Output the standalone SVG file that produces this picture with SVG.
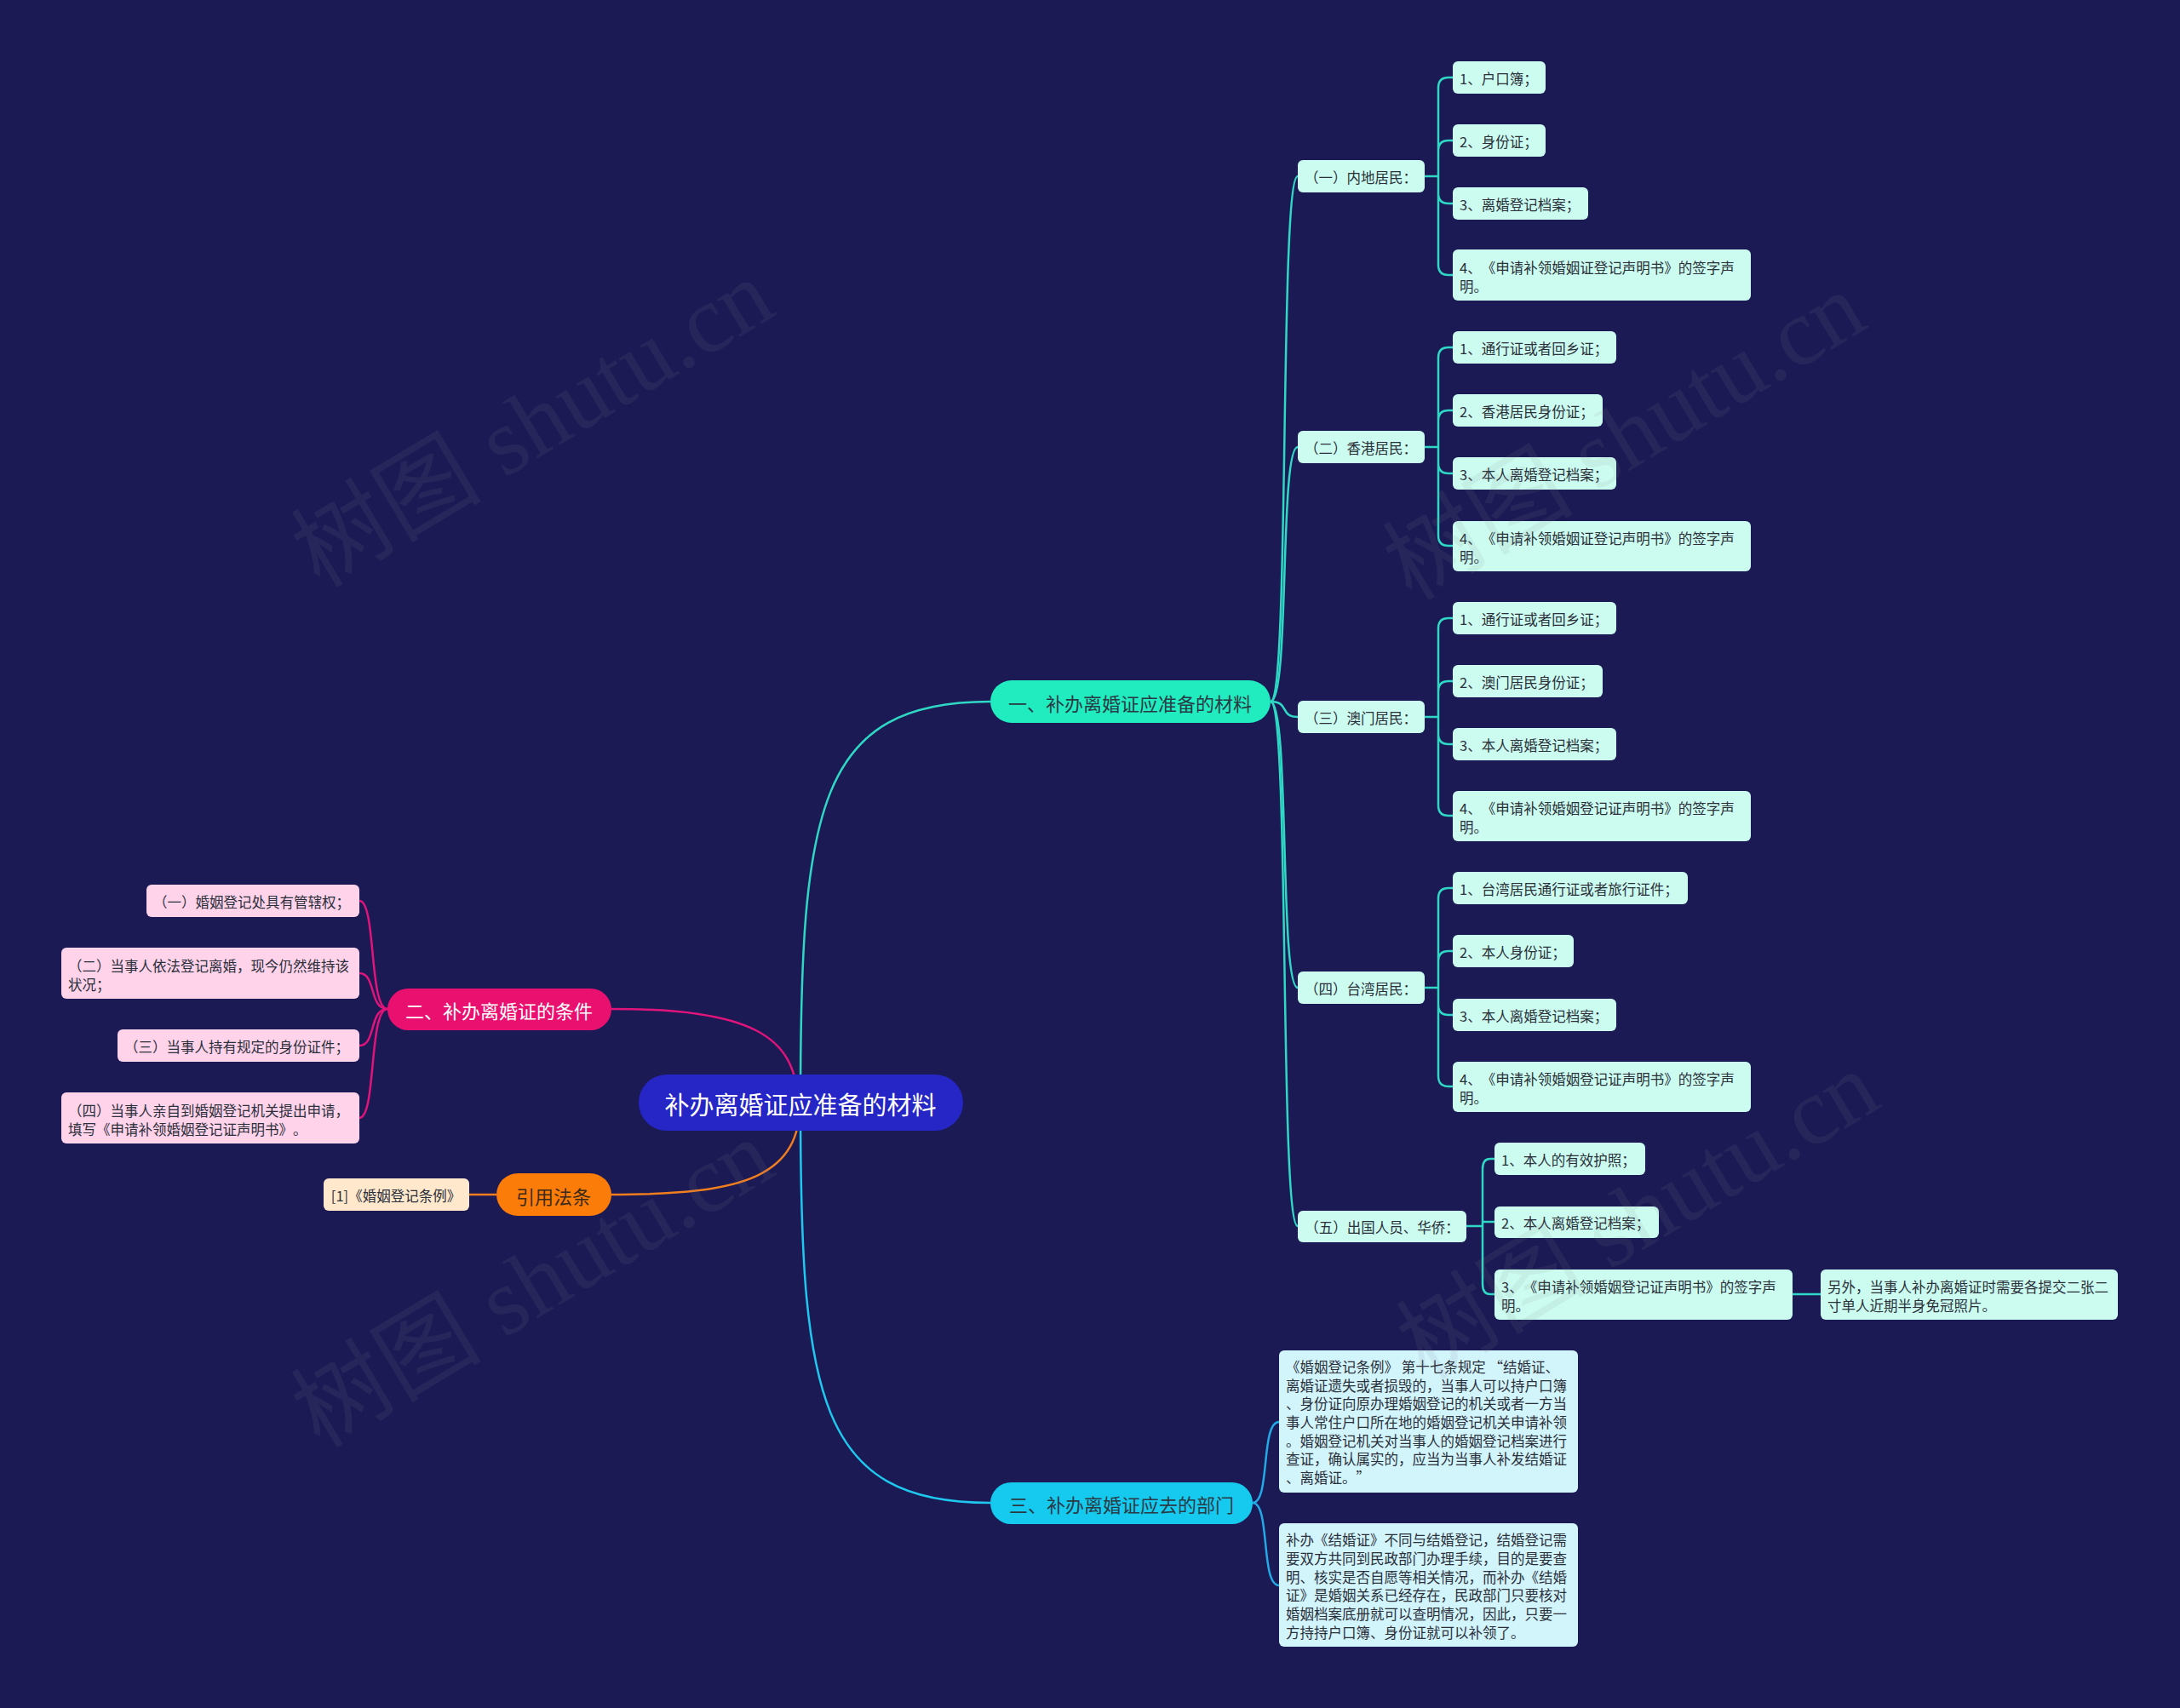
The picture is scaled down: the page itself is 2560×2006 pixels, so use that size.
<svg xmlns="http://www.w3.org/2000/svg" width="2560" height="2006" viewBox="0 0 2560 2006">
<style>
text{font-family:"Noto Sans CJK SC","Noto Sans",sans-serif;text-spacing-trim:space-all;}
.leaf{fill:#cbfcef;}
.sub{fill:#cbfcef;}
.pk{fill:#ffd3ea;}
.bx{fill:#d2f4fb;}
.t{font-size:16.5px;fill:#2a2f3a;}
.tc{font-size:16.5px;fill:#2a2f3a;text-anchor:middle;}
.c1{fill:none;stroke:#2fd8c4;stroke-width:2.5;}
.c3{fill:none;stroke:#23a9e6;stroke-width:2.5;}
.cp{fill:none;stroke:#e0147a;stroke-width:2.5;}
.co{fill:none;stroke:#f07d1e;stroke-width:2.5;}
.wm{font-family:"Liberation Serif","Noto Sans CJK SC",serif;font-size:112px;fill:#8a8a9a;opacity:0.11;}
</style>
<rect width="2560" height="2006" fill="#1b1a54"/>

<g id="connectors">
<path class="c1" d="M940 1295 C940 950 960 824 1163 824"/>
<path class="c3" d="M940 1295 C940 1640 960 1765 1163 1765" style="stroke:#1fc8ee"/>
<path class="cp" d="M718 1185 C880 1185 935 1215 937 1295"/>
<path class="co" d="M718 1403 C880 1403 938 1380 940 1295"/>
<path class="co" d="M551 1403 H583"/>
<path class="cp" d="M422 1058 C442 1058 433 1185 455 1185"/>
<path class="cp" d="M422 1143 C442 1143 433 1185 455 1185"/>
<path class="cp" d="M422 1228 C442 1228 433 1185 455 1185"/>
<path class="cp" d="M422 1313 C442 1313 433 1185 455 1185"/>
<path class="c1" d="M1492 824 C1515 824 1502 207 1524 207"/>
<path class="c1" d="M1492 824 C1515 824 1502 525 1524 525"/>
<path class="c1" d="M1492 824 C1515 824 1502 842 1524 842"/>
<path class="c1" d="M1492 824 C1515 824 1502 1160 1524 1160"/>
<path class="c1" d="M1492 824 C1515 824 1502 1440 1524 1440"/>
<path class="c1" d="M1673 207 H1689 V103 Q1689 91 1701 91 H1706 M1689 177 Q1689 165 1701 165 H1706 M1689 227 Q1689 239 1701 239 H1706 M1689 207 V311 Q1689 323 1701 323 H1706" stroke-width="3"/>
<path class="c1" d="M1673 525 H1689 V420 Q1689 408 1701 408 H1706 M1689 494 Q1689 482 1701 482 H1706 M1689 544 Q1689 556 1701 556 H1706 M1689 525 V629 Q1689 641 1701 641 H1706" stroke-width="3"/>
<path class="c1" d="M1673 842 H1689 V738 Q1689 726 1701 726 H1706 M1689 812 Q1689 800 1701 800 H1706 M1689 862 Q1689 874 1701 874 H1706 M1689 842 V946 Q1689 958 1701 958 H1706" stroke-width="3"/>
<path class="c1" d="M1673 1160 H1689 V1055 Q1689 1043 1701 1043 H1706 M1689 1129 Q1689 1117 1701 1117 H1706 M1689 1180 Q1689 1192 1701 1192 H1706 M1689 1160 V1264 Q1689 1276 1701 1276 H1706" stroke-width="3"/>
<path class="c1" d="M1722 1440 H1741 V1373 Q1741 1361 1750 1361 H1755 M1741 1435 H1755 M1741 1440 V1508 Q1741 1520 1750 1520 H1755" stroke-width="3"/>
<path class="c1" d="M2105 1520 H2138" stroke-width="3"/>
<path class="c3" d="M1471 1765 C1492 1765 1480 1670 1502 1670"/>
<path class="c3" d="M1471 1765 C1492 1765 1480 1862 1502 1862"/>
</g>

<g id="center">
<rect x="750" y="1262" width="381" height="66" rx="33" fill="#2626c6"/>
<text x="940" y="1296" font-size="29" fill="#ffffff" text-anchor="middle" dominant-baseline="central">补办离婚证应准备的材料</text>
</g>

<g id="b1">
<rect x="1163" y="799" width="329" height="50" rx="25" fill="#20ecc0"/>
<text x="1327" y="825" font-size="22" fill="#2a3a44" text-anchor="middle" dominant-baseline="central">一、补办离婚证应准备的材料</text>
</g>
<g id="b2">
<rect x="455" y="1161" width="263" height="49" rx="24.5" fill="#ea1070"/>
<text x="586" y="1186" font-size="22" fill="#ffffff" text-anchor="middle" dominant-baseline="central">二、补办离婚证的条件</text>
</g>
<g id="b3">
<rect x="1163" y="1741" width="308" height="49" rx="24.5" fill="#16c9ee"/>
<text x="1317" y="1766" font-size="22" fill="#2a3a44" text-anchor="middle" dominant-baseline="central">三、补办离婚证应去的部门</text>
</g>
<g id="b4">
<rect x="583" y="1378" width="135" height="50" rx="25" fill="#fb7c08"/>
<text x="650" y="1404" font-size="22" fill="#3a2a1a" text-anchor="middle" dominant-baseline="central">引用法条</text>
</g>
<g id="ref1">
<rect x="380" y="1384" width="171" height="38" rx="6" fill="#ffe8cc"/>
<text x="465" y="1404" class="tc" dominant-baseline="central">[1]《婚姻登记条例》</text>
</g>

<g id="p1"><rect class="pk" x="172" y="1039" width="250" height="38" rx="6"/><text class="t" x="180" y="1059" dominant-baseline="central">（一）婚姻登记处具有管辖权；</text></g>
<g id="p2"><rect class="pk" x="72" y="1113" width="350" height="60" rx="6"/><text class="t" x="80" y="1134" dominant-baseline="central">（二）当事人依法登记离婚，现今仍然维持该</text><text class="t" x="80" y="1156" dominant-baseline="central">状况；</text></g>
<g id="p3"><rect class="pk" x="138" y="1209" width="284" height="38" rx="6"/><text class="t" x="146" y="1229" dominant-baseline="central">（三）当事人持有规定的身份证件；</text></g>
<g id="p4"><rect class="pk" x="72" y="1283" width="350" height="60" rx="6"/><text class="t" x="80" y="1304" dominant-baseline="central">（四）当事人亲自到婚姻登记机关提出申请，</text><text class="t" x="80" y="1326" dominant-baseline="central">填写《申请补领婚姻登记证声明书》。</text></g>

<g id="s1"><rect class="sub" x="1524" y="188" width="149" height="38" rx="6"/><text class="tc" x="1598" y="208" dominant-baseline="central">（一）内地居民：</text></g>
<g id="s1a"><rect class="leaf" x="1706" y="72" width="109" height="38" rx="6"/><text class="t" x="1714" y="92" dominant-baseline="central">1、户口簿；</text></g>
<g id="s1b"><rect class="leaf" x="1706" y="146" width="109" height="38" rx="6"/><text class="t" x="1714" y="166" dominant-baseline="central">2、身份证；</text></g>
<g id="s1c"><rect class="leaf" x="1706" y="220" width="159" height="38" rx="6"/><text class="t" x="1714" y="240" dominant-baseline="central">3、离婚登记档案；</text></g>
<g id="s1d"><rect class="leaf" x="1706" y="293" width="350" height="60" rx="6"/><text class="t" x="1714" y="314" dominant-baseline="central">4、《申请补领婚姻证登记声明书》的签字声</text><text class="t" x="1714" y="336" dominant-baseline="central">明。</text></g>

<g id="s2"><rect class="sub" x="1524" y="506" width="149" height="38" rx="6"/><text class="tc" x="1598" y="526" dominant-baseline="central">（二）香港居民：</text></g>
<g id="s2a"><rect class="leaf" x="1706" y="389" width="192" height="38" rx="6"/><text class="t" x="1714" y="409" dominant-baseline="central">1、通行证或者回乡证；</text></g>
<g id="s2b"><rect class="leaf" x="1706" y="463" width="176" height="38" rx="6"/><text class="t" x="1714" y="483" dominant-baseline="central">2、香港居民身份证；</text></g>
<g id="s2c"><rect class="leaf" x="1706" y="537" width="192" height="38" rx="6"/><text class="t" x="1714" y="557" dominant-baseline="central">3、本人离婚登记档案；</text></g>
<g id="s2d"><rect class="leaf" x="1706" y="612" width="350" height="59" rx="6"/><text class="t" x="1714" y="632" dominant-baseline="central">4、《申请补领婚姻证登记声明书》的签字声</text><text class="t" x="1714" y="654" dominant-baseline="central">明。</text></g>

<g id="s3"><rect class="sub" x="1524" y="823" width="149" height="38" rx="6"/><text class="tc" x="1598" y="843" dominant-baseline="central">（三）澳门居民：</text></g>
<g id="s3a"><rect class="leaf" x="1706" y="707" width="192" height="38" rx="6"/><text class="t" x="1714" y="727" dominant-baseline="central">1、通行证或者回乡证；</text></g>
<g id="s3b"><rect class="leaf" x="1706" y="781" width="176" height="38" rx="6"/><text class="t" x="1714" y="801" dominant-baseline="central">2、澳门居民身份证；</text></g>
<g id="s3c"><rect class="leaf" x="1706" y="855" width="192" height="38" rx="6"/><text class="t" x="1714" y="875" dominant-baseline="central">3、本人离婚登记档案；</text></g>
<g id="s3d"><rect class="leaf" x="1706" y="929" width="350" height="59" rx="6"/><text class="t" x="1714" y="949" dominant-baseline="central">4、《申请补领婚姻登记证声明书》的签字声</text><text class="t" x="1714" y="971" dominant-baseline="central">明。</text></g>

<g id="s4"><rect class="sub" x="1524" y="1141" width="149" height="38" rx="6"/><text class="tc" x="1598" y="1161" dominant-baseline="central">（四）台湾居民：</text></g>
<g id="s4a"><rect class="leaf" x="1706" y="1024" width="276" height="38" rx="6"/><text class="t" x="1714" y="1044" dominant-baseline="central">1、台湾居民通行证或者旅行证件；</text></g>
<g id="s4b"><rect class="leaf" x="1706" y="1098" width="142" height="38" rx="6"/><text class="t" x="1714" y="1118" dominant-baseline="central">2、本人身份证；</text></g>
<g id="s4c"><rect class="leaf" x="1706" y="1173" width="192" height="38" rx="6"/><text class="t" x="1714" y="1193" dominant-baseline="central">3、本人离婚登记档案；</text></g>
<g id="s4d"><rect class="leaf" x="1706" y="1247" width="350" height="59" rx="6"/><text class="t" x="1714" y="1267" dominant-baseline="central">4、《申请补领婚姻登记证声明书》的签字声</text><text class="t" x="1714" y="1289" dominant-baseline="central">明。</text></g>

<g id="s5"><rect class="sub" x="1524" y="1422" width="198" height="37" rx="6"/><text class="tc" x="1623" y="1441" dominant-baseline="central">（五）出国人员、华侨：</text></g>
<g id="s5a"><rect class="leaf" x="1755" y="1342" width="177" height="38" rx="6"/><text class="t" x="1763" y="1362" dominant-baseline="central">1、本人的有效护照；</text></g>
<g id="s5b"><rect class="leaf" x="1755" y="1417" width="193" height="37" rx="6"/><text class="t" x="1763" y="1436" dominant-baseline="central">2、本人离婚登记档案；</text></g>
<g id="s5c"><rect class="leaf" x="1755" y="1491" width="350" height="59" rx="6"/><text class="t" x="1763" y="1511" dominant-baseline="central">3、《申请补领婚姻登记证声明书》的签字声</text><text class="t" x="1763" y="1533" dominant-baseline="central">明。</text></g>
<g id="s5d"><rect class="leaf" x="2138" y="1491" width="349" height="59" rx="6"/><text class="t" x="2146" y="1511" dominant-baseline="central">另外，当事人补办离婚证时需要各提交二张二</text><text class="t" x="2146" y="1533" dominant-baseline="central">寸单人近期半身免冠照片。</text></g>

<g id="d1"><rect class="bx" x="1502" y="1586" width="351" height="167" rx="6"/>
<text class="t" x="1510" dominant-baseline="central"><tspan x="1510" y="1605">《婚姻登记条例》 第十七条规定 “结婚证、</tspan><tspan x="1510" y="1627">离婚证遗失或者损毁的，当事人可以持户口簿</tspan><tspan x="1510" y="1648">、身份证向原办理婚姻登记的机关或者一方当</tspan><tspan x="1510" y="1670">事人常住户口所在地的婚姻登记机关申请补领</tspan><tspan x="1510" y="1692">。婚姻登记机关对当事人的婚姻登记档案进行</tspan><tspan x="1510" y="1713">查证，确认属实的，应当为当事人补发结婚证</tspan><tspan x="1510" y="1735">、离婚证。”</tspan></text></g>
<g id="d2"><rect class="bx" x="1502" y="1789" width="351" height="145" rx="6"/>
<text class="t" x="1510" dominant-baseline="central"><tspan x="1510" y="1808">补办《结婚证》不同与结婚登记，结婚登记需</tspan><tspan x="1510" y="1830">要双方共同到民政部门办理手续，目的是要查</tspan><tspan x="1510" y="1852">明、核实是否自愿等相关情况，而补办《结婚</tspan><tspan x="1510" y="1873">证》是婚姻关系已经存在，民政部门只要核对</tspan><tspan x="1510" y="1895">婚姻档案底册就可以查明情况，因此，只要一</tspan><tspan x="1510" y="1917">方持持户口簿、身份证就可以补领了。</tspan></text></g>

<g id="watermark">
<text class="wm" text-anchor="middle" transform="translate(645,530) rotate(-31)">树图 shutu.cn</text>
<text class="wm" text-anchor="middle" transform="translate(1927,545) rotate(-31)">树图 shutu.cn</text>
<text class="wm" text-anchor="middle" transform="translate(645,1540) rotate(-31)">树图 shutu.cn</text>
<text class="wm" text-anchor="middle" transform="translate(1943,1460) rotate(-31)">树图 shutu.cn</text>
</g>
</svg>
